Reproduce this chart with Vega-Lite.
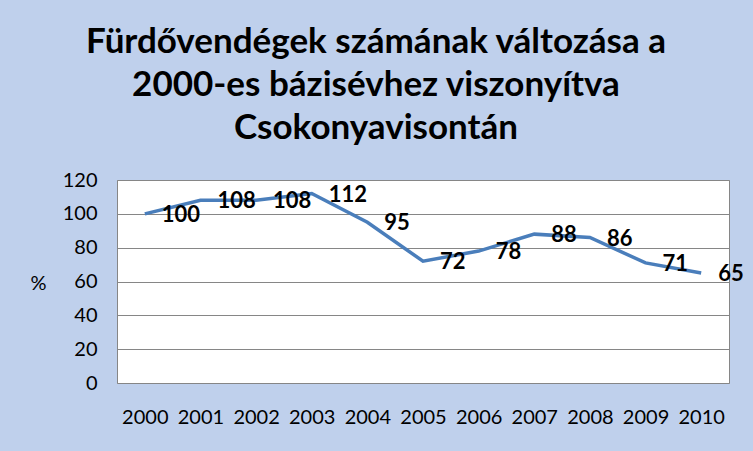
{
  "$schema": "https://vega.github.io/schema/vega-lite/v6.json",
  "description": "Fürdővendégek számának változása a 2000-es bázisévhez viszonyítva Csokonyavisontán",
  "autosize": "none",
  "width": 612,
  "height": 203,
  "padding": {"left": 117, "top": 180, "right": 24, "bottom": 68},
  "background": "#BFD0EC",
  "data": {
    "values": [
      {"ev": "2000", "szazalek": 100},
      {"ev": "2001", "szazalek": 108},
      {"ev": "2002", "szazalek": 108},
      {"ev": "2003", "szazalek": 112},
      {"ev": "2004", "szazalek": 95},
      {"ev": "2005", "szazalek": 72},
      {"ev": "2006", "szazalek": 78},
      {"ev": "2007", "szazalek": 88},
      {"ev": "2008", "szazalek": 86},
      {"ev": "2009", "szazalek": 71},
      {"ev": "2010", "szazalek": 65}
    ]
  },
  "title": {
    "text": ["Fürdővendégek számának változása a", "2000-es bázisévhez viszonyítva", "Csokonyavisontán"],
    "font": "Lato",
    "fontSize": 35,
    "fontWeight": "bold",
    "lineHeight": 43,
    "color": "#000000",
    "anchor": "middle",
    "frame": "group",
    "dx": -47,
    "offset": 24
  },
  "config": {
    "font": "Lato",
    "view": {"fill": "#FFFFFF", "stroke": "#868686", "strokeWidth": 1},
    "axis": {
      "labelColor": "#000000",
      "labelFont": "Lato",
      "ticks": false,
      "domain": false,
      "gridColor": "#868686",
      "gridWidth": 1
    }
  },
  "encoding": {
    "x": {
      "field": "ev",
      "type": "ordinal",
      "scale": {"type": "point", "padding": 0.5},
      "axis": {"title": null, "labelAngle": 0, "labelFontSize": 20, "labelPadding": 24, "grid": false}
    },
    "y": {
      "field": "szazalek",
      "type": "quantitative",
      "scale": {"domain": [0, 120]},
      "axis": {
        "values": [0, 20, 40, 60, 80, 100, 120],
        "labelFontSize": 20,
        "labelPadding": 20,
        "title": "%",
        "titleAngle": 0,
        "titleFontSize": 20,
        "titleFontWeight": "normal",
        "titleColor": "#000000",
        "titleX": -79,
        "titleY": 103,
        "titleAlign": "center",
        "titleBaseline": "middle"
      }
    }
  },
  "layer": [
    {
      "mark": {"type": "line", "color": "#4A7EBB", "strokeWidth": 3.5}
    },
    {
      "mark": {
        "type": "text",
        "align": "left",
        "baseline": "middle",
        "dx": 17,
        "dy": 1,
        "fontSize": 22,
        "fontWeight": "bold",
        "color": "#000000"
      },
      "encoding": {
        "text": {"field": "szazalek", "type": "quantitative"}
      }
    }
  ]
}
